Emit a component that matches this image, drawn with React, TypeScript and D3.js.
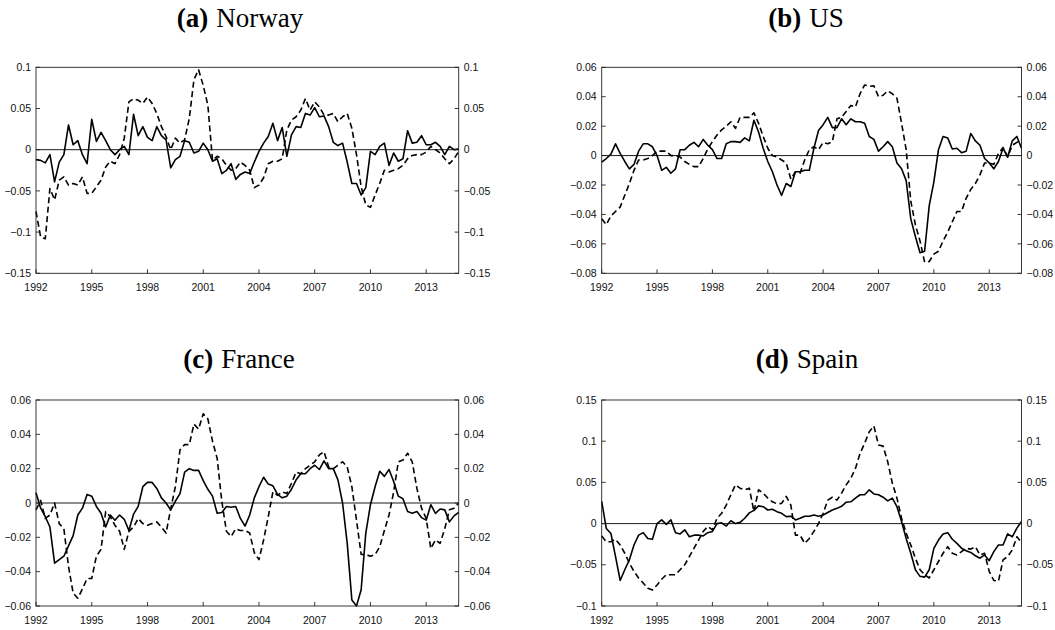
import React from "react";
import * as d3 from "d3";

// Quarterly data 1992Q1 .. 2014Q4 (92 values each)
const START_YEAR = 1992;
const END_YEAR = 2014.75;
const xTickYears = [1992, 1995, 1998, 2001, 2004, 2007, 2010, 2013];

const norwaySolid = [
  -0.012, -0.013, -0.016, -0.006,
  -0.039, -0.015, -0.006, 0.030,
  0.006, 0.011, -0.006, -0.017,
  0.037, 0.010, 0.021, 0.011,
  0.0, -0.006, 0.0, 0.004,
  -0.006, 0.043, 0.017, 0.028,
  0.015, 0.011, 0.028, 0.017,
  0.012, -0.022, -0.012, -0.008,
  0.011, 0.009, -0.004, -0.002,
  0.008, 0.0, -0.014, -0.011,
  -0.029, -0.025, -0.017, -0.036,
  -0.030, -0.027, -0.029, -0.015,
  -0.002, 0.008, 0.016, 0.032,
  0.011, 0.027, -0.008, 0.018,
  0.028, 0.027, 0.044, 0.042,
  0.051, 0.040, 0.041, 0.028,
  0.009, 0.005, 0.008, -0.015,
  -0.041, -0.041, -0.055, -0.046,
  -0.002, -0.006, 0.004, 0.008,
  -0.019, -0.004, -0.014, -0.011,
  0.023, 0.008, 0.009, 0.017,
  0.006, 0.006, 0.009, 0.004,
  -0.006, 0.004, 0.0, 0.001,
];
const norwayDashed = [
  -0.075, -0.106, -0.108, -0.047,
  -0.061, -0.037, -0.033, -0.043,
  -0.041, -0.043, -0.033, -0.053,
  -0.053, -0.045, -0.037, -0.021,
  -0.014, -0.017, -0.006, 0.014,
  0.058, 0.062, 0.060, 0.056,
  0.064, 0.056, 0.044, 0.028,
  0.016, 0.0, 0.014, 0.008,
  0.012, 0.038, 0.085, 0.097,
  0.078, 0.054, -0.013, -0.008,
  -0.011, -0.019, -0.025, -0.023,
  -0.015, -0.019, -0.025, -0.046,
  -0.043, -0.034, -0.017, -0.014,
  -0.014, -0.011, 0.024, 0.036,
  0.040, 0.048, 0.062, 0.048,
  0.058, 0.052, 0.042, 0.042,
  0.044, 0.034, 0.040, 0.044,
  0.026, -0.006, -0.045, -0.067,
  -0.070, -0.055, -0.041, -0.025,
  -0.027, -0.025, -0.023, -0.019,
  -0.011, -0.007, -0.006, -0.006,
  -0.003, 0.004, 0.0, -0.004,
  -0.011, -0.017, -0.011, -0.002,
];
const usSolid = [
  -0.0045, -0.002, 0.001, 0.008,
  0.0015, -0.004, -0.009, -0.006,
  0.003, 0.008, 0.008, 0.006,
  0.0, -0.010, -0.008, -0.012,
  -0.009, 0.004, 0.004, 0.007,
  0.009, 0.006, 0.011, 0.007,
  0.004, -0.002, -0.002, 0.008,
  0.0095, 0.0095, 0.009, 0.012,
  0.010, 0.024, 0.016, 0.005,
  -0.004, -0.011, -0.020, -0.027,
  -0.019, -0.021, -0.011, -0.011,
  -0.010, -0.010, 0.005, 0.017,
  0.021, 0.026, 0.019, 0.019,
  0.025, 0.021, 0.025, 0.023,
  0.023, 0.022, 0.013, 0.011,
  0.003, 0.006, 0.0095, 0.006,
  -0.005, -0.009, -0.017, -0.043,
  -0.055, -0.066, -0.065, -0.034,
  -0.018, 0.004, 0.013, 0.012,
  0.0045, 0.005, 0.002, 0.003,
  0.015, 0.010, 0.007, -0.002,
  -0.005, -0.009, -0.004, 0.005,
  -0.001, 0.010, 0.013, 0.005,
];
const usDashed = [
  -0.043, -0.047, -0.041, -0.038,
  -0.035, -0.027, -0.019, -0.010,
  -0.003, -0.003, -0.002, 0.0,
  0.003, 0.003, 0.003, 0.0,
  0.0, -0.001, -0.004, -0.006,
  -0.0075, -0.0075, -0.002, 0.0045,
  0.0095, 0.014, 0.0175, 0.020,
  0.023, 0.0185, 0.026, 0.026,
  0.026, 0.029, 0.022, 0.013,
  0.005, 0.0, -0.001, -0.003,
  -0.005, -0.016, -0.011, -0.012,
  -0.003, 0.004, 0.006, 0.004,
  0.009, 0.008, 0.0095, 0.025,
  0.026, 0.030, 0.034, 0.033,
  0.042, 0.048, 0.047, 0.0475,
  0.040, 0.041, 0.044, 0.042,
  0.039, 0.022, 0.004, -0.031,
  -0.047, -0.058, -0.0725, -0.072,
  -0.067, -0.065, -0.058, -0.052,
  -0.045, -0.038, -0.038, -0.029,
  -0.023, -0.019, -0.013, -0.005,
  -0.005, -0.006, 0.0015, 0.0055,
  -0.001, 0.007, 0.009, 0.011,
];
const franceSolid = [
  0.006, -0.003, -0.008, -0.014,
  -0.035, -0.033, -0.031, -0.025,
  -0.019, -0.007, -0.003, 0.005,
  0.004, -0.002, -0.006, -0.014,
  -0.007, -0.010, -0.007, -0.0095,
  -0.016, -0.0065, -0.002, 0.0095,
  0.012, 0.012, 0.0085, 0.003,
  0.0, -0.004, 0.001, 0.0055,
  0.018, 0.020, 0.019, 0.019,
  0.013, 0.008, 0.004, -0.006,
  -0.0055, -0.002, -0.0025, -0.002,
  -0.009, -0.0135, -0.007, 0.003,
  0.0095, 0.015, 0.011, 0.010,
  0.005, 0.003, 0.004, 0.008,
  0.0135, 0.017, 0.017, 0.020,
  0.022, 0.0195, 0.0245, 0.020,
  0.020, 0.0135, 0.0, -0.0235,
  -0.0565, -0.060, -0.0505, -0.0175,
  -0.001, 0.0095, 0.0185, 0.0155,
  0.0195, 0.0125, 0.004, 0.0025,
  -0.005, -0.006, -0.005, -0.0085,
  -0.010, -0.001, -0.006, -0.0035,
  -0.004, -0.011, -0.0075, -0.0055,
];
const franceDashed = [
  -0.004, 0.0015, -0.009, -0.007,
  0.0, -0.012, -0.015, -0.037,
  -0.0525, -0.0555, -0.050, -0.044,
  -0.044, -0.031, -0.027, -0.005,
  -0.008, -0.013, -0.0165, -0.027,
  -0.0165, -0.014, -0.009, -0.012,
  -0.013, -0.012, -0.011, -0.014,
  -0.0175, -0.0035, 0.0095, 0.031,
  0.034, 0.034, 0.046, 0.043,
  0.052, 0.049, 0.036, 0.026,
  0.001, -0.0165, -0.0195, -0.015,
  -0.016, -0.016, -0.0175, -0.029,
  -0.033, -0.0215, -0.008, 0.0065,
  0.0045, 0.0065, 0.0055, 0.0115,
  0.018, 0.017, 0.020, 0.022,
  0.024, 0.028, 0.030, 0.021,
  0.020, 0.022, 0.024, 0.021,
  0.0095, -0.010, -0.030, -0.030,
  -0.031, -0.030, -0.0255, -0.016,
  -0.007, 0.0065, 0.024, 0.025,
  0.029, 0.024, 0.0085, -0.003,
  -0.009, -0.0265, -0.0215, -0.0235,
  -0.015, -0.004, -0.003, 0.0,
];
const spainSolid = [
  0.027, -0.006, -0.012, -0.040,
  -0.069, -0.056, -0.044, -0.026,
  -0.014, -0.011, -0.018, -0.019,
  0.0, 0.0045, -0.001, 0.0045,
  -0.011, -0.0125, -0.0075, -0.016,
  -0.014, -0.014, -0.015, -0.011,
  -0.0095, 0.0, 0.001, -0.003,
  0.0035, 0.0, 0.0015, 0.0065,
  0.013, 0.016, 0.0215, 0.0205,
  0.0165, 0.0175, 0.0145, 0.0125,
  0.0085, 0.009, 0.0045, 0.0065,
  0.009, 0.009, 0.0105, 0.009,
  0.0105, 0.0135, 0.0165, 0.0185,
  0.021, 0.026, 0.0265, 0.031,
  0.035, 0.035, 0.041, 0.036,
  0.035, 0.032, 0.0275, 0.031,
  0.0205, 0.0025, -0.018, -0.036,
  -0.056, -0.064, -0.065, -0.056,
  -0.030, -0.020, -0.0125, -0.011,
  -0.019, -0.024, -0.030, -0.033,
  -0.035, -0.039, -0.042, -0.038,
  -0.045, -0.034, -0.026, -0.026,
  -0.0125, -0.016, -0.0055, 0.0025,
];
const spainDashed = [
  -0.015, -0.022, -0.022, -0.019,
  -0.026, -0.036, -0.048, -0.058,
  -0.066, -0.072, -0.0785, -0.0805,
  -0.0745, -0.0675, -0.062, -0.062,
  -0.062, -0.056, -0.050, -0.040,
  -0.030, -0.020, -0.0095, -0.0035,
  -0.0075, 0.0065, 0.0125, 0.0225,
  0.035, 0.047, 0.043, 0.041,
  0.043, 0.0145, 0.041, 0.037,
  0.031, 0.0265, 0.024, 0.0245,
  0.033, 0.0225, -0.014, -0.014,
  -0.024, -0.018, -0.0095, 0.0,
  0.0125, 0.0285, 0.032, 0.0285,
  0.037, 0.047, 0.055, 0.067,
  0.085, 0.0975, 0.1115, 0.1185,
  0.0955, 0.094, 0.075, 0.049,
  0.031, 0.0065, -0.0115, -0.026,
  -0.042, -0.056, -0.062, -0.066,
  -0.056, -0.046, -0.036, -0.028,
  -0.036, -0.038, -0.034, -0.030,
  -0.031, -0.028, -0.038, -0.036,
  -0.058, -0.069, -0.070, -0.044,
  -0.040, -0.032, -0.016, -0.023,
];

const norwayTicks = [-0.15, -0.1, -0.05, 0, 0.05, 0.1];
const usTicks = [-0.08, -0.06, -0.04, -0.02, 0, 0.02, 0.04, 0.06];
const franceTicks = [-0.06, -0.04, -0.02, 0, 0.02, 0.04, 0.06];
const spainTicks = [-0.1, -0.05, 0, 0.05, 0.1, 0.15];

const W = 1055;
const H = 630;

type PanelProps = {
  letter: string;
  name: string;
  solid: number[];
  dashed: number[];
  ticks: number[];
  left: number;
  right: number;
  top: number;
  bottom: number;
  titleX: number;
  titleY: number;
};

const fmt = (v: number) => String(v).replace("-", "\u2212");

function Panel(p: PanelProps) {
  const x = d3.scaleLinear().domain([START_YEAR, END_YEAR]).range([p.left, p.right]);
  const y = d3
    .scaleLinear()
    .domain([p.ticks[0], p.ticks[p.ticks.length - 1]])
    .range([p.bottom, p.top]);
  const line = d3
    .line<number>()
    .x((_, i) => x(START_YEAR + i / 4))
    .y((d) => y(d));
  const tickLen = 4;
  const axisColor = "#222";
  const labelFont = "'Liberation Sans', Arial, Helvetica, sans-serif";
  return (
    <g>
      <text
        x={p.titleX}
        y={p.titleY}
        textAnchor="middle"
        fontFamily="'Liberation Serif', 'Times New Roman', serif"
        fontSize={27}
        fill="#000"
      >
        <tspan fontWeight="bold">({p.letter})</tspan>
        <tspan dx={8}>{p.name}</tspan>
      </text>
      {/* zero line */}
      <line x1={p.left} x2={p.right} y1={y(0)} y2={y(0)} stroke="#000" strokeWidth={0.9} />
      {/* series */}
      <path d={line(p.solid) || ""} fill="none" stroke="#000" strokeWidth={1.6} strokeLinejoin="round" />
      <path
        d={line(p.dashed) || ""}
        fill="none"
        stroke="#000"
        strokeWidth={1.6}
        strokeDasharray="6,3.5"
        strokeLinejoin="round"
      />
      {/* box */}
      <rect
        x={p.left}
        y={p.top}
        width={p.right - p.left}
        height={p.bottom - p.top}
        fill="none"
        stroke={axisColor}
        strokeWidth={0.9}
      />
      {/* x ticks */}
      {xTickYears.map((t) => (
        <g key={"x" + t}>
          <line x1={x(t)} x2={x(t)} y1={p.bottom} y2={p.bottom - tickLen} stroke={axisColor} strokeWidth={0.9} />
          <text
            x={x(t)}
            y={p.bottom + 17.5}
            textAnchor="middle"
            fontFamily={labelFont}
            fontSize={10.5}
            fill="#111"
          >
            {t}
          </text>
        </g>
      ))}
      {/* y ticks left & right */}
      {p.ticks.map((v) => (
        <g key={"y" + v}>
          <line x1={p.left} x2={p.left + tickLen} y1={y(v)} y2={y(v)} stroke={axisColor} strokeWidth={0.9} />
          <line x1={p.right} x2={p.right - tickLen} y1={y(v)} y2={y(v)} stroke={axisColor} strokeWidth={0.9} />
          <text
            x={p.left - 5}
            y={y(v)}
            dy="0.35em"
            textAnchor="end"
            fontFamily={labelFont}
            fontSize={10.5}
            fill="#111"
          >
            {fmt(v)}
          </text>
          <text
            x={p.right + 5}
            y={y(v)}
            dy="0.35em"
            textAnchor="start"
            fontFamily={labelFont}
            fontSize={10.5}
            fill="#111"
          >
            {fmt(v)}
          </text>
        </g>
      ))}
    </g>
  );
}

export default function App() {
  const L1 = 36, R1 = 458.7, L2 = 601.7, R2 = 1021.5;
  const T1 = 67.3, B1 = 273.3, T2 = 400, B2 = 606;
  return (
    <svg
      width={W}
      height={H}
      viewBox={`0 0 ${W} ${H}`}
      style={{ position: "absolute", left: 0, top: 0, background: "#fff" }}
    >
      <rect x={0} y={0} width={W} height={H} fill="#fff" />
      <Panel letter="a" name="Norway" solid={norwaySolid} dashed={norwayDashed} ticks={norwayTicks}
        left={L1} right={R1} top={T1} bottom={B1} titleX={240} titleY={27} />
      <Panel letter="b" name="US" solid={usSolid} dashed={usDashed} ticks={usTicks}
        left={L2} right={R2} top={T1} bottom={B1} titleX={806} titleY={27} />
      <Panel letter="c" name="France" solid={franceSolid} dashed={franceDashed} ticks={franceTicks}
        left={L1} right={R1} top={T2} bottom={B2} titleX={239} titleY={368} />
      <Panel letter="d" name="Spain" solid={spainSolid} dashed={spainDashed} ticks={spainTicks}
        left={L2} right={R2} top={T2} bottom={B2} titleX={807} titleY={368} />
    </svg>
  );
}
